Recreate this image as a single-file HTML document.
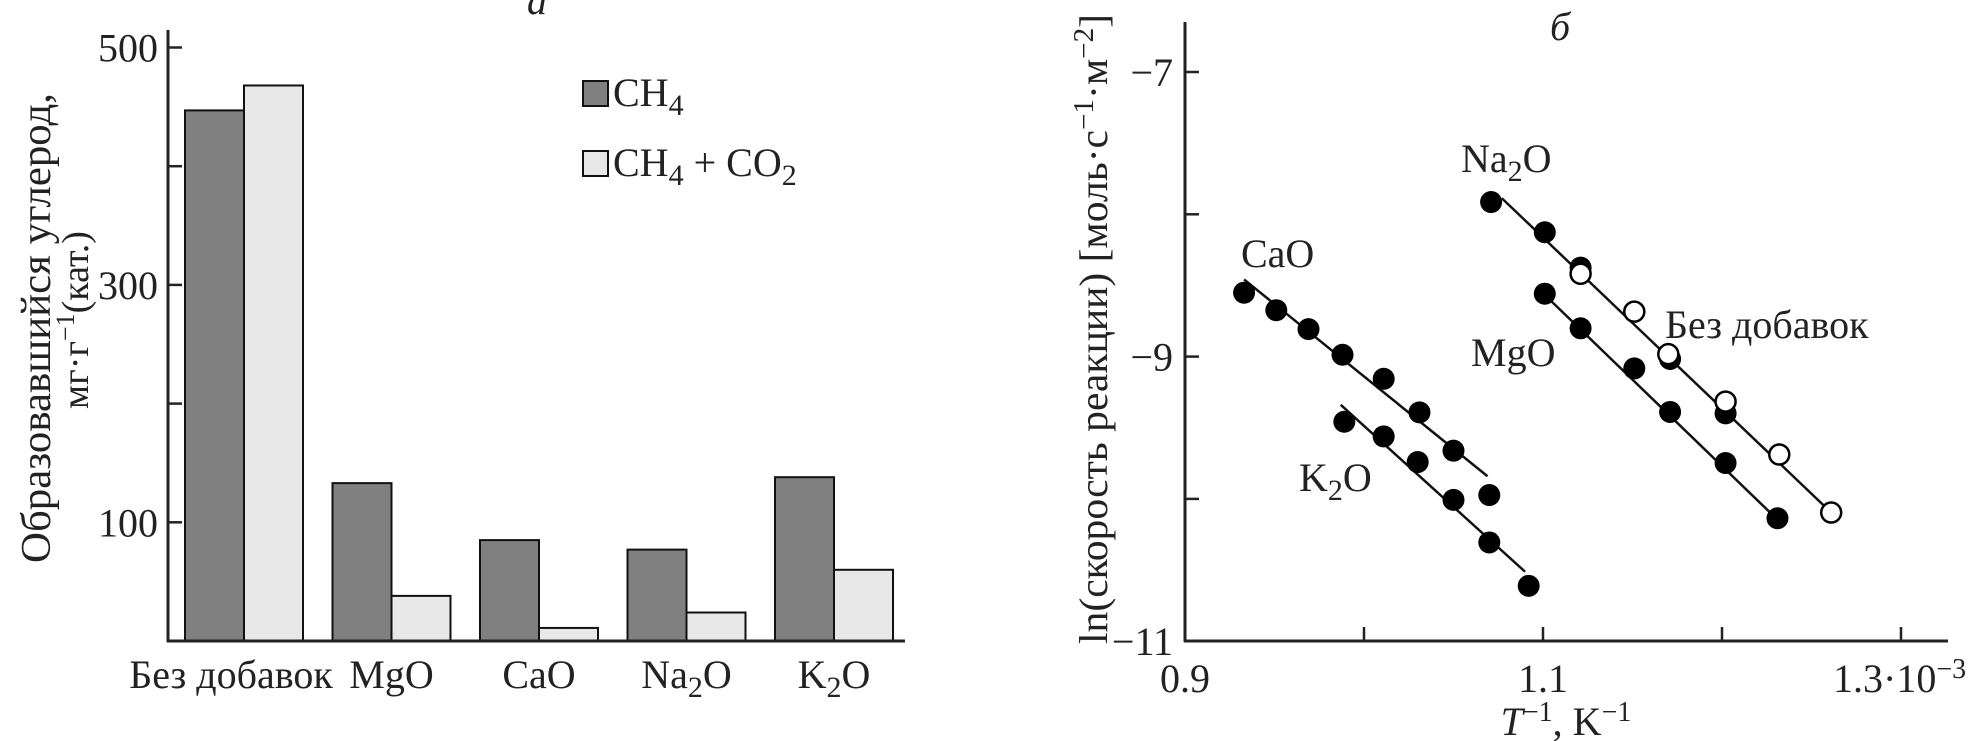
<!DOCTYPE html>
<html><head><meta charset="utf-8"><style>
html,body{margin:0;padding:0;background:#fff;}
svg{display:block;font-family:"Liberation Serif",serif;}
</style></head><body>
<svg id="chart" width="1970" height="741" viewBox="0 0 1970 741" xmlns="http://www.w3.org/2000/svg">
<g id="left"></g>
<g id="right"></g>
</svg>
<script>
// ---- Panel a data ----
const categories = ["Без добавок", "MgO", "CaO", "Na2O", "K2O"];
const ch4Values = [447, 133, 85, 77, 138];
const ch4co2Values = [468, 38, 11, 24, 60];
const yTicksA = [100, 300, 500];
const yMinorA = [200, 400];

// ---- Panel b data ----
const xTicksB = [0.9, 1.0, 1.1, 1.2, 1.3];
const xTickLabelsB = ["0.9", "", "1.1", "", "1.3·10⁻³"];
const yTicksB = [-7, -8, -9, -10, -11];
const yTickLabelsB = ["−7", "", "−9", "", "−11"];
const caoX = [0.933, 0.951, 0.969, 0.988, 1.011, 1.031, 1.050, 1.070];
const caoY = [-8.551, -8.674, -8.807, -8.987, -9.156, -9.392, -9.661, -9.973];
const caoLineX = [0.933, 1.069];
const caoLineY = [-8.458, -9.841];
const k2oX = [0.989, 1.011, 1.030, 1.050, 1.070, 1.092];
const k2oY = [-9.458, -9.561, -9.741, -10.007, -10.306, -10.611];
const k2oLineX = [0.987, 1.090];
const k2oLineY = [-9.339, -10.512];
const na2oX = [1.071, 1.101, 1.121, 1.171, 1.202];
const na2oY = [-7.914, -8.126, -8.375, -9.017, -9.399];
const noAddX = [1.121, 1.151, 1.170, 1.202, 1.232, 1.261];
const noAddY = [-8.418, -8.684, -8.983, -9.316, -9.688, -10.096];
const topLineX = [1.077, 1.261];
const topLineY = [-7.887, -10.096];
const mgoX = [1.101, 1.121, 1.151, 1.171, 1.202, 1.231];
const mgoY = [-8.558, -8.801, -9.083, -9.389, -9.748, -10.136];
const mgoLineX = [1.097, 1.231];
const mgoLineY = [-8.518, -10.146];

const NS = "http://www.w3.org/2000/svg";
function mk(parent, tag, attrs) {
  const e = document.createElementNS(NS, tag);
  for (const k in attrs) e.setAttribute(k, attrs[k]);
  parent.appendChild(e);
  return e;
}
function chem(el, s) {
  const parts = s.split(/(\d)/);
  let shift = 0;
  parts.forEach(p => {
    if (p === "") return;
    const t = document.createElementNS(NS, "tspan");
    if (/^\d$/.test(p)) {
      t.setAttribute("dy", 9 - shift); shift = 9;
      t.setAttribute("font-size", "30");
    } else if (shift) {
      t.setAttribute("dy", -shift); shift = 0;
    }
    t.textContent = p;
    el.appendChild(t);
  });
}

// ===== Panel a =====
const L = document.getElementById("left");
const ax = { x0: 168, x1: 905, yBase: 641, pxPerUnit: 1.187 };
const ya = v => ax.yBase - v * ax.pxPerUnit;
const groupCenter = i => 244 + i * 147.5;
const barW = 59;

ch4Values.forEach((v, i) => {
  const r = mk(L, "rect", { x: groupCenter(i) - barW, y: ya(v), width: barW, height: ax.yBase - ya(v), fill: "#808080", stroke: "#111", "stroke-width": 2 });
  
  
});
ch4co2Values.forEach((v, i) => {
  const r = mk(L, "rect", { x: groupCenter(i), y: ya(v), width: barW, height: ax.yBase - ya(v), fill: "#e8e8e8", stroke: "#111", "stroke-width": 2 });
  
  
});
let e;
e = mk(L, "line", { x1: ax.x0, y1: 30, x2: ax.x0, y2: ax.yBase + 1, stroke: "#222", "stroke-width": 3 });
 
e = mk(L, "line", { x1: ax.x0 - 1, y1: ax.yBase, x2: ax.x1, y2: ax.yBase, stroke: "#222", "stroke-width": 3 });
 
yTicksA.forEach(v => {
  mk(L, "line", { x1: ax.x0, y1: ya(v), x2: ax.x0 + 14, y2: ya(v), stroke: "#222", "stroke-width": 2.5 });
  const t = mk(L, "text", { x: ax.x0 - 10, y: ya(v) + 14, "text-anchor": "end", "font-size": 40, fill: "#222" });
  t.textContent = v;
  
  
});
yMinorA.forEach(v => {
  mk(L, "line", { x1: ax.x0, y1: ya(v), x2: ax.x0 + 14, y2: ya(v), stroke: "#222", "stroke-width": 2.5 });
});
categories.forEach((c, i) => {
  const t = mk(L, "text", { x: i === 0 ? 231 : groupCenter(i), y: 688, "text-anchor": "middle", "font-size": 40, fill: "#222" });
  chem(t, c);
  
  
});
e = mk(L, "text", { x: 537, y: 14, "text-anchor": "middle", "font-size": 40, "font-style": "italic", fill: "#222" });
e.textContent = "а";  
// legend
e = mk(L, "rect", { x: 583, y: 81, width: 25, height: 25, fill: "#808080", stroke: "#111", "stroke-width": 2 });
 
e = mk(L, "text", { x: 613, y: 106, "font-size": 40, fill: "#222" }); chem(e, "CH4");
 
e = mk(L, "rect", { x: 583, y: 151, width: 25, height: 25, fill: "#e8e8e8", stroke: "#111", "stroke-width": 2 });
 
e = mk(L, "text", { x: 613, y: 176, "font-size": 40, fill: "#222" }); chem(e, "CH4 + CO2");
 
// y title
e = mk(L, "text", { x: 0, y: 0, transform: "translate(50,328) rotate(-90)", "text-anchor": "middle", "font-size": 42, fill: "#222", textLength: 470, lengthAdjust: "spacingAndGlyphs" });
e.textContent = "Образовавшийся углерод,";
 
e = mk(L, "text", { x: 0, y: 0, transform: "translate(88,320) rotate(-90)", "text-anchor": "middle", "font-size": 38, fill: "#222" });
e.innerHTML = 'мг·г<tspan dy="-14" font-size="26">−1</tspan><tspan dy="14">(кат.)</tspan>';
 

// ===== Panel b =====
const R = document.getElementById("right");
const bx = { x0: 1185, x1: 1948, yBot: 641 };
const xb = v => 1185 + (v - 0.9) * 1790;
const yb = v => 72 + (-7 - v) * 142.3;

e = mk(R, "line", { x1: bx.x0, y1: 22, x2: bx.x0, y2: bx.yBot + 1, stroke: "#222", "stroke-width": 3 });
 
e = mk(R, "line", { x1: bx.x0 - 1, y1: bx.yBot, x2: bx.x1, y2: bx.yBot, stroke: "#222", "stroke-width": 3 });
 
yTicksB.forEach((v, i) => {
  if (v !== -11) mk(R, "line", { x1: bx.x0, y1: yb(v), x2: bx.x0 + 14, y2: yb(v), stroke: "#222", "stroke-width": 2.5 });
  if (yTickLabelsB[i]) {
    const t = mk(R, "text", { x: bx.x0 - 12, y: yb(v) + 14, "text-anchor": "end", "font-size": 40, fill: "#222" });
    t.textContent = yTickLabelsB[i];
    
    
  }
});
xTicksB.forEach((v, i) => {
  if (i > 0) mk(R, "line", { x1: xb(v), y1: bx.yBot, x2: xb(v), y2: bx.yBot - 14, stroke: "#222", "stroke-width": 2.5 });
  if (xTickLabelsB[i]) {
    const t = mk(R, "text", { x: i === 4 ? 1833 : xb(v), y: 692, "text-anchor": i === 4 ? "start" : "middle", "font-size": 40, fill: "#222" });
    if (i === 4) t.innerHTML = '1.3·10<tspan dy="-14" font-size="28">−3</tspan>';
    else t.textContent = xTickLabelsB[i];
    
    
  }
});
function line(X, Y, name) {
  const l = mk(R, "line", { x1: xb(X[0]), y1: yb(Y[0]), x2: xb(X[1]), y2: yb(Y[1]), stroke: "#111", "stroke-width": 2.5 });
  
  
}
function pts(X, Y, open, name) {
  X.forEach((x, i) => {
    const c = mk(R, "circle", { cx: xb(x), cy: yb(Y[i]), r: open ? 10 : 11, fill: open ? "#fff" : "#000", stroke: "#000", "stroke-width": open ? 2.5 : 0 });
    
    
  });
}
line(caoLineX, caoLineY, 'fit-line-cao');
line(k2oLineX, k2oLineY, 'fit-line-k2o');
line(topLineX, topLineY, 'fit-line-na2o');
line(mgoLineX, mgoLineY, 'fit-line-mgo');
pts(caoX, caoY, false, 'point-cao');
pts(k2oX, k2oY, false, 'point-k2o');
pts(na2oX, na2oY, false, 'point-na2o');
pts(mgoX, mgoY, false, 'point-mgo');
pts(noAddX, noAddY, true, 'point-no-additive');

function lab(x, y, s, name) {
  const t = mk(R, "text", { x: x, y: y, "font-size": 40, fill: "#222" });
  chem(t, s);
  
  
}
lab(1461, 172, "Na2O", 'label-na2o');
lab(1241, 267, "CaO", 'label-cao');
lab(1665, 338, "Без добавок", 'label-no-additive');
lab(1471, 366, "MgO", 'label-mgo');
lab(1299, 491, "K2O", 'label-k2o');
e = mk(R, "text", { x: 1560, y: 40, "text-anchor": "middle", "font-size": 40, "font-style": "italic", fill: "#222" });
e.textContent = "б";  
e = mk(R, "text", { x: 1566, y: 735, "text-anchor": "middle", "font-size": 40, fill: "#222" });
e.innerHTML = '<tspan font-style="italic">T</tspan><tspan dy="-14" font-size="28">−1</tspan><tspan dy="14">, K</tspan><tspan dy="-14" font-size="28">−1</tspan>';
 
e = mk(R, "text", { x: 0, y: 0, transform: "translate(1107,329) rotate(-90)", "text-anchor": "middle", "font-size": 40, fill: "#222", textLength: 630, lengthAdjust: "spacingAndGlyphs" });
e.innerHTML = 'ln(скорость реакции) [моль·с<tspan dy="-14" font-size="28">−1</tspan><tspan dy="14">·м</tspan><tspan dy="-14" font-size="28">−2</tspan><tspan dy="14">]</tspan>';
 
</script>
</body></html>
